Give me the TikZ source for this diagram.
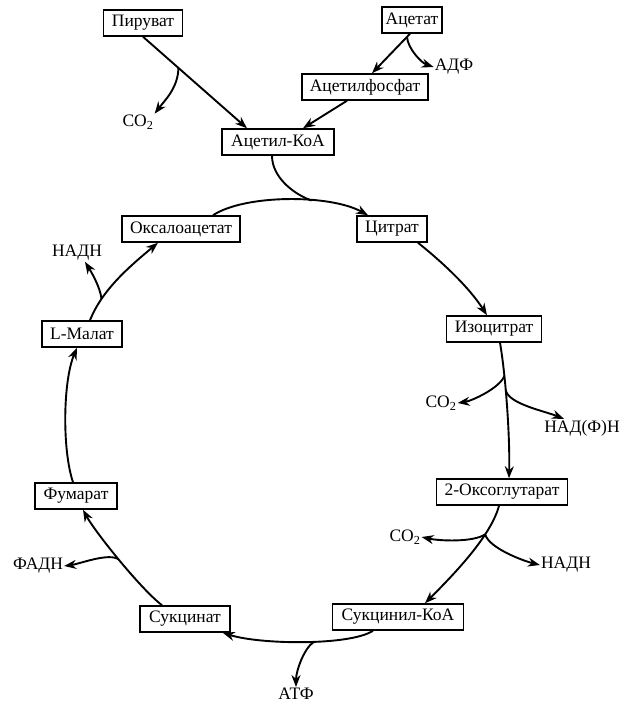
\documentclass[tikz,border=0pt]{standalone}
\usepackage{fontspec}
\setmainfont{Liberation Serif}
\usetikzlibrary{arrows.meta}
\begin{document}
\begin{tikzpicture}[x=1pt,y=-1pt,
  box/.style={draw,line width=1.5pt,inner sep=0pt,minimum height=26pt,
    font=\fontsize{17.5}{17.5}\selectfont},
  lbl/.style={inner sep=1pt,font=\fontsize{17.5}{17.5}\selectfont},
  flow/.style={line width=1.9pt,-{Stealth[length=12pt,width=9pt]}},
  link/.style={line width=1.9pt}]
\useasboundingbox[fill=white] (0,0) rectangle (629,706);

% metabolites
\node[box,minimum width=79pt]  (pyr)  at (143,23)  {Пируват};
\node[box,minimum width=60pt]  (ac)   at (412,20)  {Ацетат};
\node[box,minimum width=126pt] (acp)  at (365,87)  {Ацетилфосфат};
\node[box,minimum width=112pt] (acoa) at (278,142) {Ацетил-КоА};
\node[box,minimum width=70pt]  (cit)  at (392,229) {Цитрат};
\node[box,minimum width=118pt] (oaa)  at (181,229) {Оксалоацетат};
\node[box,minimum width=80pt]  (mal)  at (82,334)  {L-Малат};
\node[box,minimum width=95pt]  (icit) at (494,329) {Изоцитрат};
\node[box,minimum width=131pt] (okg)  at (502,492) {2-Оксоглутарат};
\node[box,minimum width=131pt] (scoa) at (398,617) {Сукцинил-КоА};
\node[box,minimum width=90pt]  (succ) at (185,619) {Сукцинат};
\node[box,minimum width=82pt]  (fum)  at (76,496)  {Фумарат};

% side products
\node[lbl] (co2a)  at (138,122) {CO\textsubscript{2}};
\node[lbl] (adp)   at (454,67)  {АДФ};
\node[lbl] (nadh1) at (77,253)  {НАДН};
\node[lbl] (co2b)  at (441,403) {CO\textsubscript{2}};
\node[lbl] (nadph) at (582,428) {НАД(Ф)Н};
\node[lbl] (co2c)  at (405,537) {CO\textsubscript{2}};
\node[lbl] (nadh2) at (566,565) {НАДН};
\node[lbl] (atp)   at (296,694) {АТФ};
\node[lbl] (fadh)  at (38,566)  {ФАДН};

% entry into the cycle
\draw[flow] (pyr.south) -- ([xshift=-31pt]acoa.north) coordinate[pos=0.34] (bp);
\draw[flow] (bp) .. controls +(0,20) and +(9,-12) .. (co2a.north east);
\draw[flow] ([xshift=-2pt]ac.south) -- ([xshift=7pt]acp.north) coordinate[pos=0.08] (ba);
\draw[flow] (ba) .. controls +(1,12) and +(-12,-4) .. (adp.west);
\draw[flow] ([xshift=-18pt]acp.south) -- ([xshift=25pt]acoa.north);

% cycle
\draw[flow] ([xshift=32pt]oaa.north) .. controls +(32,-21) and +(-38,-21) ..
  ([xshift=-24pt]cit.north) coordinate[pos=0.63] (jc);
\draw[link] ([xshift=-6pt]acoa.south) .. controls +(0,22) and +(-17,-6) .. (jc);
\draw[flow] ([xshift=26pt]cit.south) .. controls +(25,20) and +(-18,-28) ..
  ([xshift=-7pt]icit.north);
\draw[flow] ([xshift=6pt]icit.south) .. controls +(6,35) and +(1,-40) ..
  ([xshift=7pt]okg.north) coordinate[pos=0.27] (bi1) coordinate[pos=0.37] (bi2);
\draw[flow] (bi1) .. controls +(-4,12) and +(14,-2) .. (co2b.east);
\draw[flow] (bi2) .. controls +(2,14) and +(-20,-8) .. ([xshift=-18pt]nadph.north);
\draw[flow] ([xshift=-3pt]okg.south) .. controls +(-8,30) and +(30,-30) ..
  ([xshift=27pt]scoa.north) coordinate[pos=0.3] (bk);
\draw[flow] (bk) .. controls +(-12,8) and +(18,4) .. (co2c.east);
\draw[flow] (bk) .. controls +(4,14) and +(-16,-4) .. (nadh2.west);
\draw[flow] ([xshift=-25pt]scoa.south) .. controls +(-23,15) and +(38,12) ..
  ([xshift=-8pt]succ.south east) coordinate[pos=0.44] (bs);
\draw[flow] (bs) .. controls +(-10,6) and +(0,-16) .. (atp.north);
\draw[flow] ([xshift=-23pt]succ.north) .. controls +(-22,-17) and +(12,22) ..
  ([xshift=7pt]fum.south) coordinate[pos=0.5] (bf);
\draw[flow] (bf) .. controls +(-10,-7) and +(15,-2) .. (fadh.east);
\draw[flow] ([xshift=-3pt]fum.north) .. controls +(-11,-33) and +(-14,33) ..
  ([xshift=-5pt]mal.south);
\draw[flow] ([xshift=8pt]mal.north) .. controls +(12,-30) and +(-30,25) ..
  ([xshift=-23pt]oaa.south) coordinate[pos=0.25] (bm);
\draw[flow] (bm) .. controls +(-1,-12) and +(5,8) .. ([xshift=8pt]nadh1.south);
\end{tikzpicture}
\end{document}
